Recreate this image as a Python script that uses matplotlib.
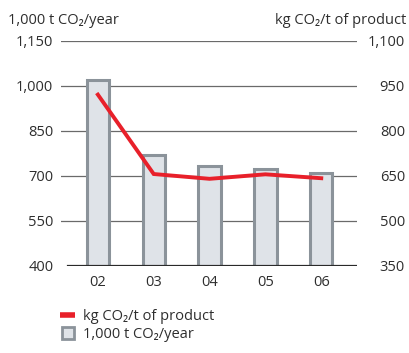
import matplotlib
matplotlib.use("Agg")
import matplotlib.pyplot as plt
from matplotlib.lines import Line2D

plt.rcParams['font.family'] = ['Open Sans', 'DejaVu Sans']

years = ["02", "03", "04", "05", "06"]
emissions_kt = [1020, 770, 733, 724, 710]          # 1,000 t CO2/year (bars, left axis)
specific_kg = [921, 656, 640, 655, 642]            # kg CO2/t of product (line, right axis)
left_ticks = [400, 550, 700, 850, 1000, 1150]
right_ticks = [350, 500, 650, 800, 950, 1100]

TEXT = '#2e2e2e'
BAR_FACE = '#dfe3e8'
BAR_EDGE = '#8b939a'
RED = '#e8202a'
FS = 10.5

W, H = 409, 353
fig = plt.figure(figsize=(W / 100, H / 100), dpi=100)
ax_l, ax_r, ax_b, ax_t = 61, 357, 265.7, 41
ax = fig.add_axes([ax_l / W, 1 - ax_b / H, (ax_r - ax_l) / W, (ax_b - ax_t) / H])

x = list(range(len(years)))
ax.set_xlim(-0.66, 4.64)
ax.set_ylim(400, 1150)

for v in left_ticks[1:]:
    ax.axhline(v, color='#6a6a6a', lw=0.9, zorder=1)

ax.bar(x, emissions_kt, width=0.4, bottom=0, color=BAR_FACE, edgecolor=BAR_EDGE,
       linewidth=2.2, zorder=2)

for s in ax.spines.values():
    s.set_visible(False)
ax.axhline(400, xmin=0.025, color='#2a2a2a', lw=1.6, zorder=3)

ax.set_yticks(left_ticks)
ax.set_yticklabels([f"{v:,}" for v in left_ticks])
ax.set_xticks(x)
ax.set_xticklabels(years)
ax.tick_params(axis='y', length=0, pad=5.5, labelsize=FS, labelcolor=TEXT)
ax.tick_params(axis='x', length=0, pad=6.5, labelsize=FS, labelcolor=TEXT)

ax2 = ax.twinx()
ax2.set_ylim(350, 1100)
ax2.plot(x, specific_kg, color=RED, lw=2.8, solid_joinstyle='miter', zorder=5)
for s in ax2.spines.values():
    s.set_visible(False)
ax2.set_yticks(right_ticks)
ax2.set_yticklabels([f"{v:,}" for v in right_ticks])
ax2.tick_params(axis='y', length=0, pad=34.5, labelsize=FS, labelcolor=TEXT)
for lab in ax2.get_yticklabels():
    lab.set_horizontalalignment('right')

fig.text(8 / W, 1 - 20 / H, "1,000 t CO₂/year", ha='left', va='center',
         fontsize=FS, color=TEXT)
fig.text(406 / W, 1 - 20 / H, "kg CO₂/t of product", ha='right', va='center',
         fontsize=FS, color=TEXT)

handles = [
    Line2D([], [], color=RED, lw=4, solid_capstyle='butt'),
    Line2D([], [], linestyle='none', marker='s', markersize=8,
           markerfacecolor=BAR_FACE, markeredgecolor=BAR_EDGE, markeredgewidth=2),
]
labels = ["kg CO₂/t of product", "1,000 t CO₂/year"]
fig.legend(handles, labels, loc='upper left', bbox_to_anchor=(60 / W, 1 - 309 / H),
           frameon=False, fontsize=FS, labelcolor=TEXT, handlelength=1.05,
           handletextpad=0.5, labelspacing=0.2, borderpad=0, borderaxespad=0)

fig.savefig("out.png", dpi=100)
